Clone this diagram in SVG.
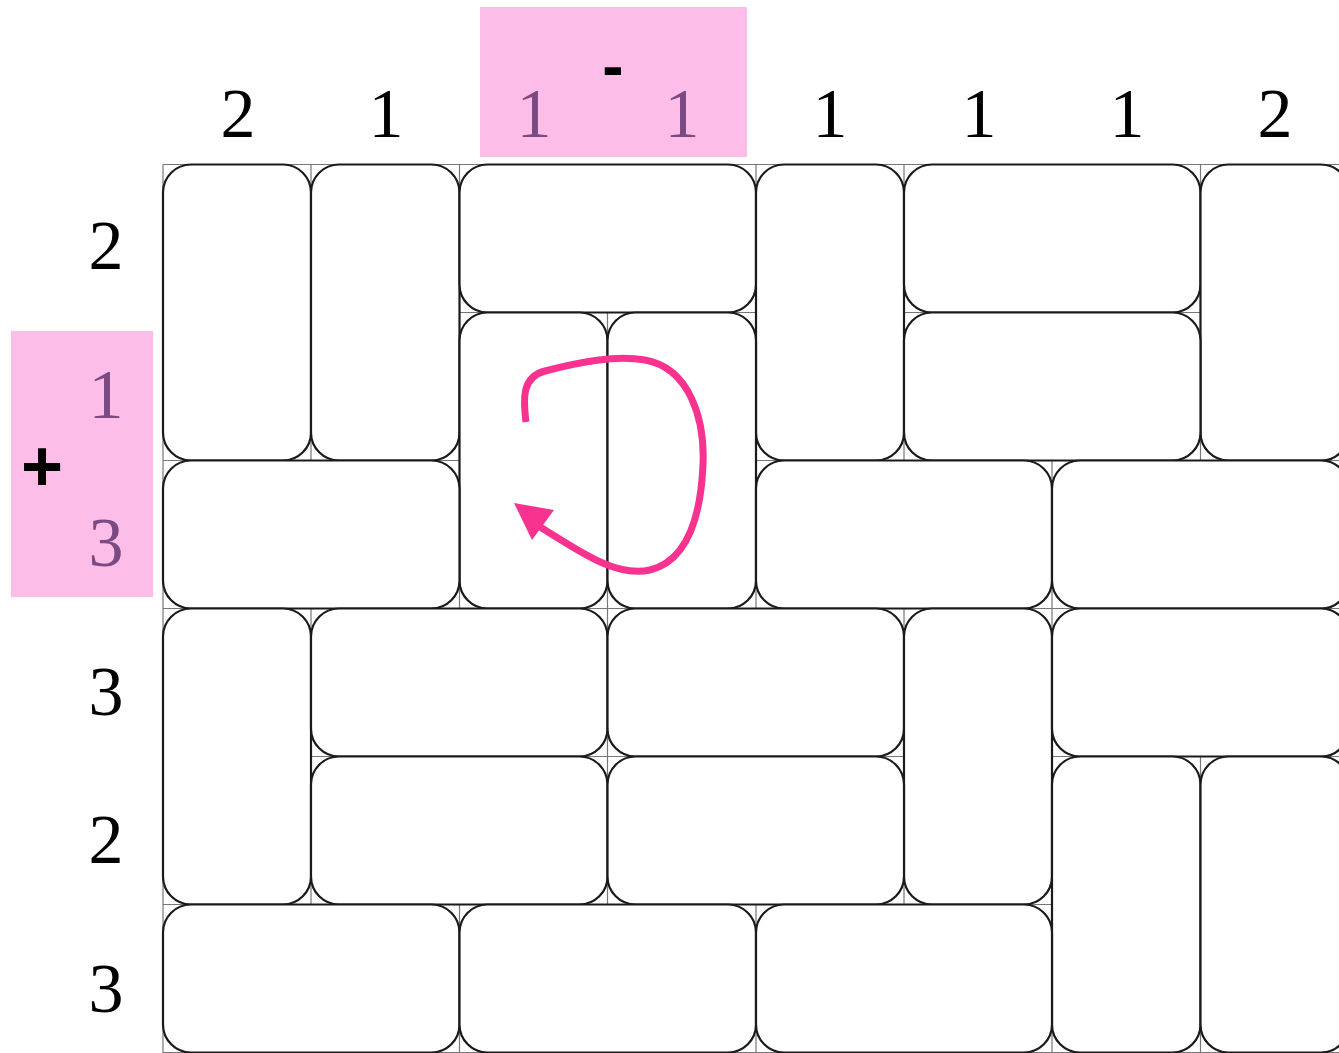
<svg xmlns="http://www.w3.org/2000/svg" width="1339" height="1053" viewBox="0 0 1339 1053">
<style>
.grid{stroke:#777;stroke-width:1.2;fill:none}
.dom{fill:#fff;stroke:#1a1a1a;stroke-width:2.2}
.num{font-size:70px;text-anchor:middle;fill:#000}
.hl{fill:#7b4a80}
.sign{font-weight:bold;text-anchor:middle;fill:#000}
.pink{fill:#fdbde9}
</style>
<rect width="1339" height="1053" fill="#fff"/>
<g id="highlights">
<rect class="pink" x="480" y="7" width="267" height="150"/>
<rect class="pink" x="11" y="331" width="142" height="266"/>
</g>
<g id="grid" class="grid">
<path d="M163,164.5H1339M163,312.5H1339M163,460.5H1339M163,608.5H1339M163,756.5H1339M163,904.5H1339M163,1052.5H1339"/>
<path d="M163,164.5V1053M311,164.5V1053M459.5,164.5V1053M607.5,164.5V1053M756,164.5V1053M904,164.5V1053M1052,164.5V1053M1200.5,164.5V1053"/>
</g>
<g id="dominoes">
<rect id="d1" class="dom" x="163" y="164.5" width="148" height="296" rx="28"/>
<rect id="d2" class="dom" x="311" y="164.5" width="148.5" height="296" rx="28"/>
<rect id="d3" class="dom" x="459.5" y="164.5" width="296.5" height="148" rx="28"/>
<rect id="d4" class="dom" x="756" y="164.5" width="148" height="296" rx="28"/>
<rect id="d5" class="dom" x="904" y="164.5" width="296.5" height="148" rx="28"/>
<rect id="d6" class="dom" x="1200.5" y="164.5" width="148.5" height="296" rx="28"/>
<rect id="d7" class="dom" x="459.5" y="312.5" width="148" height="296" rx="28"/>
<rect id="d8" class="dom" x="607.5" y="312.5" width="148.5" height="296" rx="28"/>
<rect id="d9" class="dom" x="904" y="312.5" width="296.5" height="148" rx="28"/>
<rect id="d10" class="dom" x="163" y="460.5" width="296.5" height="148" rx="28"/>
<rect id="d11" class="dom" x="756" y="460.5" width="296" height="148" rx="28"/>
<rect id="d12" class="dom" x="1052" y="460.5" width="297" height="148" rx="28"/>
<rect id="d13" class="dom" x="163" y="608.5" width="148" height="296" rx="28"/>
<rect id="d14" class="dom" x="311" y="608.5" width="296.5" height="148" rx="28"/>
<rect id="d15" class="dom" x="607.5" y="608.5" width="296.5" height="148" rx="28"/>
<rect id="d16" class="dom" x="904" y="608.5" width="148" height="296" rx="28"/>
<rect id="d17" class="dom" x="1052" y="608.5" width="297" height="148" rx="28"/>
<rect id="d18" class="dom" x="311" y="756.5" width="296.5" height="148" rx="28"/>
<rect id="d19" class="dom" x="607.5" y="756.5" width="296.5" height="148" rx="28"/>
<rect id="d20" class="dom" x="1052" y="756.5" width="148.5" height="296" rx="28"/>
<rect id="d21" class="dom" x="1200.5" y="756.5" width="148.5" height="296" rx="28"/>
<rect id="d22" class="dom" x="163" y="904.5" width="296.5" height="148" rx="28"/>
<rect id="d23" class="dom" x="459.5" y="904.5" width="296.5" height="148" rx="28"/>
<rect id="d24" class="dom" x="756" y="904.5" width="296" height="148" rx="28"/>
</g>
<g id="column-labels" font-family="Liberation Serif, serif">
<text class="num" x="238" y="137">2</text>
<text class="num" x="386" y="137">1</text>
<text class="num hl" x="534" y="137">1</text>
<text class="num hl" x="682" y="137">1</text>
<text class="num" x="830" y="137">1</text>
<text class="num" x="979" y="137">1</text>
<text class="num" x="1127" y="137">1</text>
<text class="num" x="1275" y="137">2</text>
<text class="sign" x="613" y="88" font-size="64" font-family="Liberation Sans, sans-serif">-</text>
</g>
<g id="row-labels" font-family="Liberation Serif, serif">
<text class="num" x="106" y="269">2</text>
<text class="num hl" x="106" y="418">1</text>
<text class="num hl" x="106" y="566">3</text>
<text class="num" x="106" y="715">3</text>
<text class="num" x="106" y="863">2</text>
<text class="num" x="106" y="1012">3</text>
<text class="sign" x="42" y="491" font-size="72" font-family="Liberation Sans, sans-serif">+</text>
</g>
<g id="connectors">
<path d="M526,422 C523,398 522,377 545,371 C580,362 615,355 645,360 C690,368 705,420 703,465 C701,510 690,560 650,570 C615,578 578,550 540,527" fill="none" stroke="#f7338f" stroke-width="7"/>
<polygon points="514,503 554,510 532,540" fill="#f7338f"/>
</g>
</svg>
